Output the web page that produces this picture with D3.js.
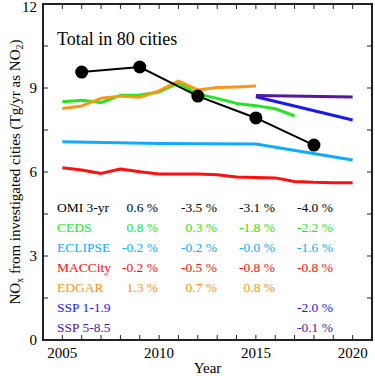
<!DOCTYPE html>
<html lang="en">
<head>
<meta charset="UTF-8">
<title>NOx in 80 cities</title>
<script src="https://cdn.jsdelivr.net/npm/d3@7"></script>
<style>
    body { margin: 0; background: #fff; }
</style>
</head>
<body>
<div id="chart"></div>
<script>
    // data (Tg/yr as NO2)
    const omiYears = [2006, 2009, 2012, 2015, 2018];
    const omiValues = [9.57, 9.75, 8.71, 7.93, 6.96];

    const cedsYears = [2005, 2006, 2007, 2008, 2009, 2010, 2011, 2012, 2013, 2014, 2015, 2016, 2017];
    const cedsValues = [8.51, 8.56, 8.48, 8.74, 8.75, 8.86, 9.18, 8.78, 8.63, 8.45, 8.37, 8.26, 8.0];

    const edgarYears = [2005, 2006, 2007, 2008, 2009, 2010, 2011, 2012, 2013, 2014, 2015];
    const edgarValues = [8.27, 8.36, 8.63, 8.71, 8.67, 8.9, 9.25, 8.93, 9.02, 9.04, 9.07];

    const eclipseYears = [2005, 2010, 2015, 2020];
    const eclipseValues = [7.08, 7.02, 7.0, 6.43];

    const maccYears = [2005, 2006, 2007, 2008, 2009, 2010, 2011, 2012, 2013, 2014, 2015, 2016, 2017, 2018, 2019, 2020];
    const maccValues = [6.15, 6.07, 5.95, 6.11, 6.01, 5.93, 5.93, 5.93, 5.9, 5.82, 5.8, 5.79, 5.66, 5.63, 5.62, 5.62];

    const ssp119Years = [2015, 2020];
    const ssp119Values = [8.69, 7.86];
    const ssp585Years = [2015, 2020];
    const ssp585Values = [8.73, 8.68];

    // trend table (% per year), one column per period
    const rowNames = ["OMI 3-yr", "CEDS", "ECLIPSE", "MACCity", "EDGAR", "SSP 1-1.9", "SSP 5-8.5"];
    const rowColors = ["#000000", "#22e622", "#12aaff", "#ff1010", "#ff9516", "#1a1aee", "#55189a"];
    const trendOmi = ["0.6", "-3.5", "-3.1", "-4.0"];
    const trendCeds = ["0.8", "0.3", "-1.8", "-2.2"];
    const trendEclipse = ["-0.2", "-0.2", "-0.0", "-1.6"];
    const trendMacc = ["-0.2", "-0.5", "-0.8", "-0.8"];
    const trendEdgar = ["1.3", "0.7", "0.8", null];
    const trendSsp119 = [null, null, null, "-2.0"];
    const trendSsp585 = [null, null, null, "-0.1"];

    const xTicks = [2005, 2010, 2015, 2020];
    const yTicks = [0, 3, 6, 9, 12];

    const W = 375, H = 376;
    const m = { left: 43, right: 372, top: 4, bottom: 340 };

    const x = d3.scaleLinear().domain([2004, 2021]).range([m.left, m.right]);
    const y = d3.scaleLinear().domain([0, 12]).range([m.bottom, m.top]);

    const svg = d3.select("#chart").append("svg")
        .attr("width", W)
        .attr("height", H)
        .attr("font-family", "'Liberation Serif', 'DejaVu Serif', serif");

    // frame ticks (yearly on x, every 1.5 on y), inside on all four sides
    const tickG = svg.append("g").attr("stroke", "#222").attr("stroke-width", 1);
    d3.range(2005, 2021).forEach(yr => {
        tickG.append("line").attr("x1", x(yr)).attr("x2", x(yr)).attr("y1", m.bottom).attr("y2", m.bottom - 5);
        tickG.append("line").attr("x1", x(yr)).attr("x2", x(yr)).attr("y1", m.top).attr("y2", m.top + 5);
    });
    d3.range(1.5, 12, 1.5).forEach(v => {
        tickG.append("line").attr("x1", m.left).attr("x2", m.left + 5).attr("y1", y(v)).attr("y2", y(v));
        tickG.append("line").attr("x1", m.right).attr("x2", m.right - 5).attr("y1", y(v)).attr("y2", y(v));
    });

    // tick labels
    svg.append("g").selectAll("text").data(xTicks).join("text")
        .attr("x", d => x(d))
        .attr("y", 358)
        .attr("text-anchor", "middle")
        .attr("font-size", "15px")
        .text(d => d);
    svg.append("g").selectAll("text").data(yTicks).join("text")
        .attr("x", 37)
        .attr("y", d => Math.max(y(d), 7))
        .attr("dy", "0.35em")
        .attr("text-anchor", "end")
        .attr("font-size", "15px")
        .text(d => d);

    // axis titles
    svg.append("text")
        .attr("x", (m.left + m.right) / 2)
        .attr("y", 373)
        .attr("text-anchor", "middle")
        .attr("font-size", "15px")
        .text("Year");

    const yLab = svg.append("text")
        .attr("transform", `translate(20,${(m.top + m.bottom) / 2}) rotate(-90)`)
        .attr("text-anchor", "middle")
        .attr("font-size", "15px");
    yLab.append("tspan").text("NO");
    yLab.append("tspan").attr("font-size", "10px").attr("dy", 3).text("x");
    yLab.append("tspan").attr("dy", -3).text(" from investigated cities (Tg/yr as NO");
    yLab.append("tspan").attr("font-size", "10px").attr("dy", 3).text("2");
    yLab.append("tspan").attr("dy", -3).text(")");

    // series lines
    const line = d3.line().x(d => x(d[0])).y(d => y(d[1]));
    const series = [
        [eclipseYears, eclipseValues, rowColors[2]],
        [maccYears, maccValues, rowColors[3]],
        [cedsYears, cedsValues, rowColors[1]],
        [edgarYears, edgarValues, rowColors[4]],
        [ssp119Years, ssp119Values, rowColors[5]],
        [ssp585Years, ssp585Values, rowColors[6]]
    ];
    series.forEach(([yrs, vals, col]) => {
        svg.append("path")
            .datum(d3.zip(yrs, vals))
            .attr("d", line)
            .attr("fill", "none")
            .attr("stroke", col)
            .attr("stroke-width", 3)
            .attr("stroke-linejoin", "round");
    });

    // OMI
    const omi = d3.zip(omiYears, omiValues);
    svg.append("path")
        .datum(omi)
        .attr("d", line)
        .attr("fill", "none")
        .attr("stroke", "#000")
        .attr("stroke-width", 2);
    svg.append("g").selectAll("circle").data(omi).join("circle")
        .attr("cx", d => x(d[0]))
        .attr("cy", d => y(d[1]))
        .attr("r", 6.5)
        .attr("fill", "#000");

    svg.append("text")
        .attr("x", 57)
        .attr("y", 45)
        .attr("font-size", "18px")
        .text("Total in 80 cities");

    // trend table
    const trends = [trendOmi, trendCeds, trendEclipse, trendMacc, trendEdgar, trendSsp119, trendSsp585];
    const colRight = [158, 217, 275, 333];
    rowNames.forEach((name, i) => {
        const by = 212 + i * 20;
        svg.append("text")
            .attr("x", 57).attr("y", by)
            .attr("font-size", "13.5px")
            .attr("fill", rowColors[i])
            .text(name);
        trends[i].forEach((t, j) => {
            if (t === null) return;
            svg.append("text")
                .attr("x", colRight[j]).attr("y", by)
                .attr("text-anchor", "end")
                .attr("font-size", "13.5px")
                .attr("fill", rowColors[i])
                .text(t + " %");
        });
    });

    // frame
    svg.append("rect")
        .attr("x", m.left).attr("y", m.top)
        .attr("width", m.right - m.left).attr("height", m.bottom - m.top)
        .attr("fill", "none")
        .attr("stroke", "#222")
        .attr("stroke-width", 2);
</script>
</body>
</html>
